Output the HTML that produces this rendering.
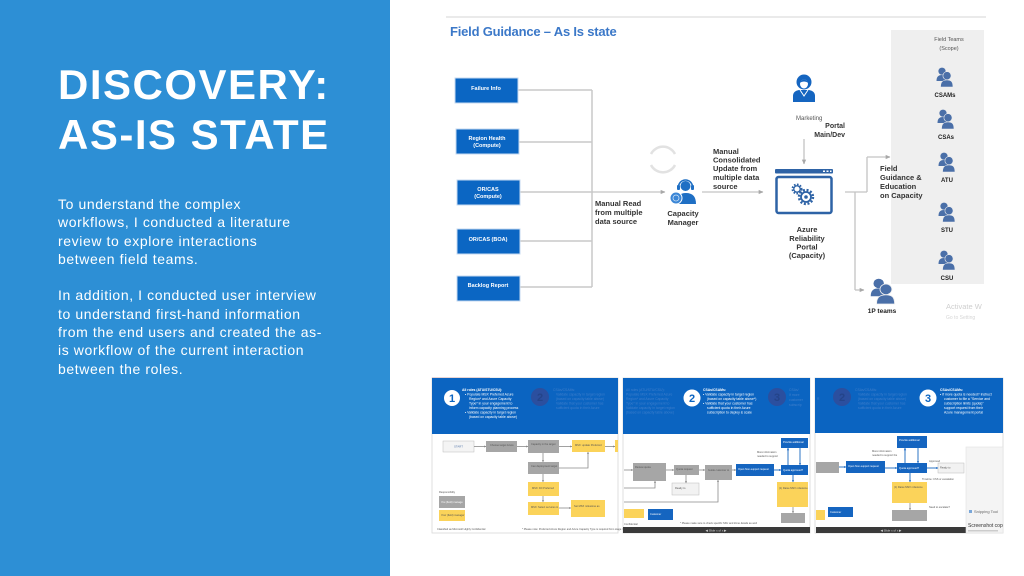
<!DOCTYPE html>
<html><head><meta charset="utf-8">
<style>
html,body{margin:0;padding:0;width:1024px;height:576px;overflow:hidden;background:#fff;}
#left{position:absolute;left:0;top:0;width:390px;height:576px;background:#2D8FD5;}
#title{position:absolute;left:58px;top:60px;font:bold 42px/50px "Liberation Sans",sans-serif;letter-spacing:1.5px;color:#fff;white-space:nowrap;}
#body{position:absolute;left:58px;top:195px;font:14px/18.3px "Liberation Sans",sans-serif;letter-spacing:0.6px;color:#fff;white-space:nowrap;}
svg{position:absolute;left:0;top:0;}
</style></head><body>
<div id="left">
<div id="title">DISCOVERY:<br>AS-IS STATE</div>
<div id="body">To understand the complex<br>workflows, I conducted a literature<br>review to explore interactions<br>between field teams.<br><br>In addition, I conducted user interview<br>to understand first-hand information<br>from the end users and created the as-<br>is workflow of the current interaction<br>between the roles.</div>
</div>
<svg width="1024" height="576" viewBox="0 0 1024 576" font-family="Liberation Sans, sans-serif">
<defs>
<marker id="ah" viewBox="0 0 6 6" refX="5" refY="3" markerWidth="4" markerHeight="4" orient="auto"><path d="M0,0.5 L5.5,3 L0,5.5 Z" fill="#a8a8a8"/></marker>
<marker id="ahs" viewBox="0 0 6 6" refX="5" refY="3" markerWidth="3" markerHeight="3" orient="auto"><path d="M0,0.5 L5.5,3 L0,5.5 Z" fill="#8a8a8a"/></marker>
<marker id="ahb" viewBox="0 0 6 6" refX="5" refY="3" markerWidth="3" markerHeight="3" orient="auto"><path d="M0,0.5 L5.5,3 L0,5.5 Z" fill="#1565C0"/></marker>
<g id="ppl">
<circle cx="6" cy="4.2" r="3.6" fill="#4A6FA8"/>
<path d="M0.5,14 C0.5,9.5 2.5,8 6,8 C8.5,8 10,9 10.5,10.5 L10.5,14 Z" fill="#4A6FA8"/>
<circle cx="11" cy="8.7" r="4.1" fill="#4A6FA8" stroke="#EFEFEF" stroke-width="0.6"/>
<path d="M4.5,20 C4.5,14.5 7,13 11,13 C15,13 17,14.5 17,20 Z" fill="#4A6FA8" stroke="#EFEFEF" stroke-width="0.6"/>
</g>
</defs>

<!-- top diagram -->
<line x1="446" y1="17" x2="986" y2="17" stroke="#e4e4e4" stroke-width="1.5"/>
<text x="450" y="36" font-size="13" font-weight="bold" fill="#3B78C8" letter-spacing="-0.2">Field Guidance – As Is state</text>

<rect x="891" y="30" width="93" height="254" fill="#EFEFEF"/>
<text x="949" y="41" font-size="5.5" text-anchor="middle" fill="#555">Field Teams</text>
<text x="949" y="50" font-size="5.5" text-anchor="middle" fill="#555">(Scope)</text>
<use href="#ppl" x="936" y="67"/>
<text x="945" y="97" font-size="6" font-weight="bold" text-anchor="middle" fill="#222">CSAMs</text>
<use href="#ppl" x="937" y="109"/>
<text x="946" y="139" font-size="6" font-weight="bold" text-anchor="middle" fill="#222">CSAs</text>
<use href="#ppl" x="938" y="152"/>
<text x="947" y="182" font-size="6" font-weight="bold" text-anchor="middle" fill="#222">ATU</text>
<use href="#ppl" x="938" y="202"/>
<text x="947" y="232" font-size="6" font-weight="bold" text-anchor="middle" fill="#222">STU</text>
<use href="#ppl" x="938" y="250"/>
<text x="947" y="280" font-size="6" font-weight="bold" text-anchor="middle" fill="#222">CSU</text>
<g transform="translate(870,278) scale(1.45,1.3)"><use href="#ppl"/></g>
<text x="882" y="313" font-size="6.5" font-weight="bold" text-anchor="middle" fill="#222">1P teams</text>
<text x="946" y="309" font-size="7.5" fill="#cfcfcf">Activate W</text>
<text x="946" y="319" font-size="5" fill="#d6d6d6">Go to Setting</text>

<!-- left source boxes -->
<g stroke="#c9c9c9" stroke-width="1.5" fill="none">
<line x1="517" y1="90" x2="592" y2="90"/>
<line x1="518" y1="142" x2="592" y2="142"/>
<line x1="520" y1="192" x2="592" y2="192"/>
<line x1="520" y1="241" x2="592" y2="241"/>
<line x1="520" y1="287" x2="592" y2="287"/>
<line x1="592" y1="90" x2="592" y2="287"/>
</g>
<line x1="592" y1="192" x2="665" y2="192" stroke="#c4c4c4" stroke-width="1.3" marker-end="url(#ah)"/>
<g fill="#0B66C3" stroke="#c6d9f0" stroke-width="1">
<rect x="455" y="78" width="63" height="25"/>
<rect x="456" y="129" width="63" height="25"/>
<rect x="457" y="180" width="63" height="25"/>
<rect x="457" y="229" width="63" height="25"/>
<rect x="457" y="276" width="63" height="25"/>
</g>
<g fill="#fff" font-size="5.5" font-weight="bold" text-anchor="middle">
<text x="486" y="90">Failure Info</text>
<text x="487" y="140">Region Health</text>
<text x="487" y="147">(Compute)</text>
<text x="488" y="191">OR/CAS</text>
<text x="488" y="198">(Compute)</text>
<text x="488" y="241">OR/CAS (BOA)</text>
<text x="488" y="287">Backlog Report</text>
</g>
<g fill="#333" font-size="7.5" font-weight="bold">
<text x="595" y="206">Manual Read</text>
<text x="595" y="215">from multiple</text>
<text x="595" y="224">data source</text>
</g>

<!-- refresh arcs -->
<path d="M651,154 A13.5,13.5 0 0 1 675,154" fill="none" stroke="#e2e2e2" stroke-width="2.5"/>
<path d="M675,165 A13.5,13.5 0 0 1 651,165" fill="none" stroke="#e2e2e2" stroke-width="2.5"/>

<!-- capacity manager -->
<path d="M678.5,187 A7,7 0 0 1 692.5,187" fill="none" stroke="#1F6FC4" stroke-width="1.6"/>
<rect x="677" y="185" width="3" height="5" rx="1" fill="#1F6FC4"/>
<rect x="691" y="185" width="3" height="5" rx="1" fill="#1F6FC4"/>
<circle cx="685.5" cy="186" r="5" fill="#1F6FC4"/>
<path d="M676,204 Q676,193 686,193 Q696,193 696,204 Z" fill="#1F6FC4"/>
<circle cx="676" cy="198" r="6" fill="#3B86D6" stroke="#fff" stroke-width="1"/>
<circle cx="676" cy="198" r="3" fill="none" stroke="#cfe3f7" stroke-width="0.8"/>
<g fill="#333" font-size="7.5" font-weight="bold" text-anchor="middle">
<text x="683" y="216">Capacity</text>
<text x="683" y="225">Manager</text>
</g>

<line x1="702" y1="192" x2="763" y2="192" stroke="#c4c4c4" stroke-width="1.3" marker-end="url(#ah)"/>
<g fill="#333" font-size="7.5" font-weight="bold">
<text x="713" y="154">Manual</text>
<text x="713" y="162.5">Consolidated</text>
<text x="713" y="171">Update from</text>
<text x="713" y="180">multiple data</text>
<text x="713" y="189">source</text>
</g>

<!-- marketing -->
<circle cx="804" cy="82" r="7.5" fill="#1565C0"/>
<ellipse cx="804" cy="84" rx="4" ry="4.5" fill="#fff"/>
<path d="M799.5,83 Q804,76 808.5,83 Q804,80 799.5,83 Z" fill="#1565C0"/>
<path d="M793,102 L793,96 Q793,91 799,90 L809,90 Q815,91 815,96 L815,102 Z" fill="#1565C0"/>
<path d="M800,90 L804,96 L808,90" fill="none" stroke="#fff" stroke-width="1"/>
<text x="796" y="120" font-size="6" fill="#555">Marketing</text>
<text x="845" y="128" font-size="7" font-weight="bold" fill="#333" text-anchor="end">Portal</text>
<text x="845" y="137" font-size="7" font-weight="bold" fill="#333" text-anchor="end">Main/Dev</text>
<line x1="804" y1="139" x2="804" y2="164" stroke="#c4c4c4" stroke-width="1.3" marker-end="url(#ah)"/>

<!-- portal -->
<rect x="775" y="169" width="58" height="4.5" rx="1" fill="#2E63A6"/>
<rect x="823" y="170.5" width="2" height="1.5" fill="#fff"/><rect x="826.5" y="170.5" width="2" height="1.5" fill="#fff"/><rect x="830" y="170.5" width="1.5" height="1.5" fill="#fff"/>
<rect x="776.5" y="177" width="55" height="36" rx="2" fill="#fff" stroke="#2E63A6" stroke-width="2.5"/>
<circle cx="797" cy="189" r="4.5" fill="none" stroke="#2E63A6" stroke-width="2" stroke-dasharray="1.6 1.4"/>
<circle cx="797" cy="189" r="3.2" fill="none" stroke="#2E63A6" stroke-width="1.3"/>
<circle cx="806" cy="197" r="7" fill="none" stroke="#2E63A6" stroke-width="2.4" stroke-dasharray="2 1.7"/>
<circle cx="806" cy="197" r="5" fill="none" stroke="#2E63A6" stroke-width="1.8"/>
<circle cx="806" cy="197" r="1.8" fill="#2E63A6"/>
<g fill="#333" font-size="7.5" font-weight="bold" text-anchor="middle">
<text x="807" y="232">Azure</text>
<text x="807" y="241">Reliability</text>
<text x="807" y="249.5">Portal</text>
<text x="807" y="258">(Capacity)</text>
</g>

<!-- right connectors -->
<g stroke="#c4c4c4" stroke-width="1.3" fill="none">
<line x1="845" y1="192" x2="867" y2="192"/>
<line x1="867" y1="157" x2="867" y2="192"/>
<line x1="855" y1="192" x2="855" y2="290"/>
<line x1="867" y1="157" x2="890" y2="157" marker-end="url(#ah)"/>
<line x1="855" y1="290" x2="864" y2="290" marker-end="url(#ah)"/>
</g>
<g fill="#333" font-size="7.5" font-weight="bold">
<text x="880" y="171">Field</text>
<text x="880" y="180">Guidance &amp;</text>
<text x="880" y="189">Education</text>
<text x="880" y="198">on Capacity</text>
</g>

<!-- ===== thumbnails ===== -->
<!-- T1 -->
<rect x="432" y="378" width="186" height="155" fill="#fff" stroke="#d8d8d8" stroke-width="0.8"/>
<line x1="432" y1="378" x2="490" y2="378" stroke="#c99" stroke-width="0.8"/>
<rect x="432" y="378" width="186" height="56" fill="#0B64C1"/>
<circle cx="452" cy="398" r="8" fill="#fff"/>
<text x="452" y="402" font-size="11" font-weight="bold" fill="#0B64C1" text-anchor="middle">1</text>
<g fill="#fff" font-size="3.4">
<text x="462" y="391" font-weight="bold">All roles (ATU/STU/CSU):</text>
<text x="465" y="395.5">•  Populate MSX Preferred Azure</text>
<text x="469" y="400">Region* and Azure Capacity</text>
<text x="469" y="404.5">Type* in your engagement to</text>
<text x="469" y="409">inform capacity planning process</text>
<text x="465" y="413.5">•  Validate capacity in target region</text>
<text x="469" y="418">(based on capacity table above)</text>
</g>
<circle cx="540" cy="397" r="9" fill="#2B4F9F"/>
<text x="540" y="401" font-size="11" font-weight="bold" fill="#24448a" text-anchor="middle">2</text>
<g fill="#3F7FCC" font-size="3.4">
<text x="553" y="391">CSAs/CSAMs:</text>
<text x="556" y="395.5">Validate capacity in target region</text>
<text x="556" y="400">(based on capacity table above)</text>
<text x="556" y="404.5">Validate that your customer has</text>
<text x="556" y="409">sufficient quota in their Azure</text>
</g>
<rect x="443" y="441" width="31" height="11" fill="#f4f4f4" stroke="#bbb" stroke-width="0.5"/>
<text x="458.5" y="447.5" font-size="2.8" fill="#5577aa" text-anchor="middle">START</text>
<g fill="#A6A6A6">
<rect x="486" y="441" width="31" height="11"/>
<rect x="528" y="440" width="31" height="13"/>
<rect x="528" y="462" width="31" height="12"/>
<rect x="439" y="496" width="26" height="12"/>
</g>
<g fill="#FBD35A">
<rect x="572" y="440" width="33" height="12"/>
<rect x="615" y="440" width="3" height="12"/>
<rect x="528" y="482" width="31" height="14"/>
<rect x="528" y="502" width="31" height="13"/>
<rect x="571" y="500" width="34" height="17"/>
<rect x="439" y="510" width="26" height="11"/>
</g>
<g stroke="#8a8a8a" stroke-width="0.8" fill="none">
<line x1="474" y1="446.5" x2="486" y2="446.5" marker-end="url(#ahs)"/>
<line x1="517" y1="446.5" x2="528" y2="446.5" marker-end="url(#ahs)"/>
<line x1="559" y1="446.5" x2="572" y2="446.5" marker-end="url(#ahs)"/>
<line x1="605" y1="446.5" x2="615" y2="446.5" marker-end="url(#ahs)"/>
<line x1="543" y1="453" x2="543" y2="462" marker-end="url(#ahs)"/>
<polyline points="559,468 588,468 588,452" marker-end="url(#ahs)"/>
<line x1="543" y1="474" x2="543" y2="482" marker-end="url(#ahs)"/>
<line x1="543" y1="496" x2="543" y2="502" marker-end="url(#ahs)"/>
<line x1="559" y1="508" x2="571" y2="508" marker-end="url(#ahs)"/>
</g>
<g fill="#555" font-size="2.6">
<text x="490" y="446">Choose target Azure</text>
<text x="531" y="445">Capacity in the target</text>
<text x="575" y="446">MSX: update Preferred</text>
<text x="531" y="467">Can deployment target</text>
<text x="532" y="489">MSX: Fill Preferred</text>
<text x="531" y="508">MSX: Select services in</text>
<text x="574" y="507">Set MSX milestone as</text>
<text x="439" y="493">Responsibility</text>
<text x="441" y="503" fill="#fff">You (field) manage</text>
<text x="441" y="516">Your (field) manager</text>
<text x="437" y="530">Classified as Microsoft Highly Confidential</text>
<text x="522" y="530">* Please note: Preferred Azure Region and Azure Capacity Type is required from stage 3 (commit) and</text>
</g>

<!-- T2 -->
<rect x="623" y="378" width="187" height="155" fill="#fff" stroke="#d8d8d8" stroke-width="0.8"/>
<rect x="623" y="378" width="187" height="56" fill="#0B64C1"/>
<g fill="#3F7FCC" font-size="3.4">
<text x="626" y="391">All roles (ATU/STU/CSU):</text>
<text x="626" y="395.5">Populate MSX Preferred Azure</text>
<text x="626" y="400">Region* and Azure Capacity</text>
<text x="626" y="404.5">Type* in your engagement to</text>
<text x="626" y="409">Validate capacity in target region</text>
<text x="626" y="413.5">(based on capacity table above)</text>
</g>
<circle cx="692" cy="398" r="8.5" fill="#fff"/>
<text x="692" y="402" font-size="11" font-weight="bold" fill="#0B64C1" text-anchor="middle">2</text>
<g fill="#fff" font-size="3.4">
<text x="703" y="391" font-weight="bold">CSAs/CSAMs:</text>
<text x="703" y="395.5">•  Validate capacity in target region</text>
<text x="707" y="400">(based on capacity table above*)</text>
<text x="703" y="404.5">•  Validate that your customer has</text>
<text x="707" y="409">sufficient quota in their Azure</text>
<text x="707" y="413.5">subscription to deploy &amp; scale</text>
</g>
<circle cx="777" cy="397" r="9" fill="#2B4F9F"/>
<text x="777" y="401" font-size="11" font-weight="bold" fill="#24448a" text-anchor="middle">3</text>
<g fill="#3F7FCC" font-size="3.4">
<text x="789" y="391">CSAs/</text>
<text x="789" y="396">If more</text>
<text x="789" y="401">customer</text>
<text x="789" y="406">subscrip</text>
</g>
<g fill="#A6A6A6">
<rect x="633" y="463" width="33" height="18"/>
<rect x="674" y="465" width="25" height="10"/>
<rect x="705" y="465" width="27" height="15"/>
<rect x="781" y="513" width="24" height="10"/>
</g>
<rect x="672" y="483" width="27" height="12" fill="#f2f2f2" stroke="#bbb" stroke-width="0.5"/>
<g fill="#1565C0">
<rect x="736" y="464" width="38" height="12"/>
<rect x="781" y="465" width="27" height="10"/>
<rect x="781" y="438" width="27" height="10"/>
<rect x="648" y="509" width="25" height="11"/>
</g>
<g fill="#FBD35A">
<rect x="777" y="482" width="31" height="25"/>
<rect x="624" y="509" width="20" height="9"/>
</g>
<g stroke="#8a8a8a" stroke-width="0.8" fill="none">
<line x1="624" y1="470" x2="633" y2="470" marker-end="url(#ahs)"/>
<line x1="666" y1="470" x2="674" y2="470" marker-end="url(#ahs)"/>
<line x1="686" y1="475" x2="686" y2="483" marker-end="url(#ahs)"/>
<line x1="699" y1="470" x2="705" y2="470" marker-end="url(#ahs)"/>
<line x1="732" y1="470" x2="736" y2="470" marker-end="url(#ahs)"/>
<polyline points="624,488 655,488 655,481" marker-end="url(#ahs)"/>
<polyline points="624,502 718,502 718,480" marker-end="url(#ahs)"/>
<line x1="793" y1="507" x2="793" y2="513" marker-end="url(#ahs)"/>
</g>
<g stroke="#1565C0" stroke-width="0.9" fill="none">
<line x1="774" y1="470" x2="781" y2="470" marker-end="url(#ahb)"/>
<line x1="788" y1="465" x2="788" y2="448" marker-end="url(#ahb)"/>
<line x1="800" y1="448" x2="800" y2="465" marker-end="url(#ahb)"/>
<line x1="793" y1="475" x2="793" y2="482" marker-end="url(#ahb)"/>
</g>
<g fill="#555" font-size="2.6">
<text x="635" y="468">Review quota</text>
<text x="676" y="470">Quota request</text>
<text x="708" y="471">Guide customer to</text>
<text x="757" y="453">More information</text>
<text x="757" y="457">needed to support</text>
<text x="675" y="489">Ready to</text>
<text x="779" y="489">(1) Raise MSX milestone</text>
<text x="680" y="524">* Please make sure to check specific SKU and Zone details as well</text>
<text x="624" y="525">Confidential</text>
</g>
<g fill="#fff" font-size="2.6">
<text x="738" y="470">Open Non-support request</text>
<text x="783" y="471">Quota approved?</text>
<text x="783" y="443">Provide additional</text>
<text x="650" y="515">Customer</text>
</g>
<rect x="623" y="527" width="187" height="6" fill="#3a3a3a"/>
<text x="716" y="531.5" font-size="3" fill="#ddd" text-anchor="middle">◀   Slide x of x   ▶</text>

<!-- T3 -->
<rect x="815" y="378" width="188" height="155" fill="#fff" stroke="#d8d8d8" stroke-width="0.8"/>
<rect x="815" y="378" width="188" height="55" fill="#0B64C1"/>
<circle cx="842" cy="397" r="9" fill="#2B4F9F"/>
<text x="842" y="401" font-size="11" font-weight="bold" fill="#24448a" text-anchor="middle">2</text>
<g fill="#3F7FCC" font-size="3.4">
<text x="855" y="391">CSAs/CSAMs:</text>
<text x="858" y="395.5">Validate capacity in target region</text>
<text x="858" y="400">(based on capacity table above)</text>
<text x="858" y="404.5">Validate that your customer has</text>
<text x="858" y="409">sufficient quota in their Azure</text>
<text x="817" y="400">R</text>
</g>
<circle cx="928" cy="398" r="8.5" fill="#fff"/>
<text x="928" y="402" font-size="11" font-weight="bold" fill="#0B64C1" text-anchor="middle">3</text>
<g fill="#fff" font-size="3.4">
<text x="940" y="391" font-weight="bold">CSAs/CSAMs:</text>
<text x="940" y="395.5">•  If more quota is needed? Instruct</text>
<text x="944" y="400">customer to file a "Service and</text>
<text x="944" y="404.5">subscription limits (quota)"</text>
<text x="944" y="409">support request from their</text>
<text x="944" y="413.5">Azure management portal</text>
</g>
<g fill="#A6A6A6">
<rect x="816" y="462" width="23" height="11"/>
<rect x="892" y="510" width="35" height="11"/>
</g>
<rect x="938" y="463" width="26" height="10" fill="#f2f2f2" stroke="#bbb" stroke-width="0.5"/>
<g fill="#1565C0">
<rect x="846" y="461" width="39" height="12"/>
<rect x="897" y="463" width="30" height="10"/>
<rect x="897" y="436" width="30" height="12"/>
<rect x="828" y="507" width="25" height="10"/>
</g>
<g fill="#FBD35A">
<rect x="892" y="482" width="35" height="21"/>
<rect x="816" y="510" width="9" height="10"/>
</g>
<g stroke="#1565C0" stroke-width="0.9" fill="none">
<line x1="839" y1="467" x2="846" y2="467" marker-end="url(#ahb)"/>
<line x1="885" y1="468" x2="897" y2="468" marker-end="url(#ahb)"/>
<line x1="905" y1="463" x2="905" y2="448" marker-end="url(#ahb)"/>
<line x1="918" y1="448" x2="918" y2="463" marker-end="url(#ahb)"/>
<line x1="927" y1="468" x2="938" y2="468" marker-end="url(#ahb)"/>
<line x1="910" y1="473" x2="910" y2="482" marker-end="url(#ahb)"/>
</g>
<line x1="910" y1="503" x2="910" y2="510" stroke="#8a8a8a" stroke-width="0.8" marker-end="url(#ahs)"/>
<g fill="#555" font-size="2.6">
<text x="872" y="452">More information</text>
<text x="872" y="456">needed to support the</text>
<text x="929" y="462">Approved</text>
<text x="922" y="480">Timeline: CSS or escalation</text>
<text x="940" y="468.5">Ready to</text>
<text x="894" y="488">(1) Raise MSX milestone</text>
<text x="929" y="508">Need to escalate?</text>
</g>
<g fill="#fff" font-size="2.6">
<text x="848" y="467">Open Non-support request</text>
<text x="899" y="469">Quota approved?</text>
<text x="899" y="441">Provide additional</text>
<text x="830" y="513">Customer</text>
</g>
<rect x="816" y="527" width="150" height="6" fill="#3a3a3a"/>
<text x="891" y="531.5" font-size="3" fill="#ddd" text-anchor="middle">◀   Slide x of x   ▶</text>
<rect x="966" y="447" width="37" height="86" fill="#f4f4f4" stroke="#e2e2e2" stroke-width="0.6"/>
<rect x="969" y="510" width="3" height="3" fill="#7aa7d9"/>
<text x="974" y="513" font-size="4" fill="#666">Snipping Tool</text>
<text x="968" y="527" font-size="5" fill="#333">Screenshot cop</text>
<rect x="968" y="530" width="30" height="1.5" fill="#ccc"/>
</svg>
</body></html>
